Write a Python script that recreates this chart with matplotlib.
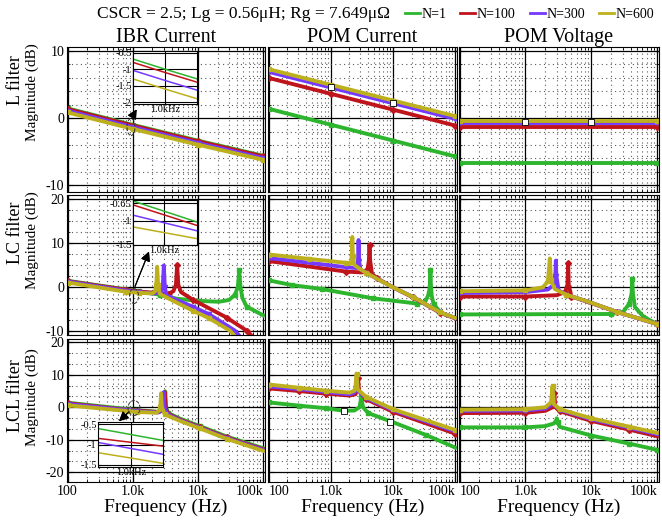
import matplotlib
matplotlib.use('Agg')
import matplotlib.pyplot as plt
from matplotlib.patches import Ellipse
from matplotlib.ticker import LogLocator, MultipleLocator, FixedLocator, NullFormatter

plt.rcParams['font.family'] = ['Liberation Serif', 'DejaVu Serif']
plt.rcParams['axes.unicode_minus'] = False
plt.rcParams['mathtext.fontset'] = 'stix'

NAMES = ['N=1', 'N=100', 'N=300', 'N=600']
COLORS = ['#2db52d', '#c0141c', '#7438ff', '#bdb01c']
MARKERS = ['s', 'D', 'v', 's']

XTICKS = [100, 1000, 10000, 100000]
XTICKLABELS = ['100', '1.0k', '10k', '100k']

COL_TITLES = ['IBR Current', 'POM Current', 'POM Voltage']
ROW_TITLES = ['L filter', 'LC filter', 'LCL filter']
TITLE = 'CSCR = 2.5; Lg = 0.56μH; Rg = 7.649μΩ'

# (frequency Hz, magnitude dB)
ibr_l = {
    'N=1':   [(100, 1.45), (1e3, -1.0), (1e4, -3.35), (1e5, -5.6)],
    'N=100': [(100, 1.35), (1e3, -1.1), (1e4, -3.45), (1e5, -5.7)],
    'N=300': [(100, 1.1), (1e3, -1.34), (1e4, -3.7), (1e5, -5.95)],
    'N=600': [(100, 0.85), (1e3, -1.6), (1e4, -3.95), (1e5, -6.2)],
}
ibr_lc = {
    'N=1':   [(100, 1.4), (800, -0.6), (1260, -1.03), (2600, -1.8), (4700, -2.7),
              (1e4, -3.2), (21e3, -3.4), (30e3, -3.0), (37e3, -1.8), (41e3, 0.0),
              (43e3, 3.8), (45e3, 0.0), (48e3, -2.5), (56e3, -4.5), (1e5, -6.5)],
    'N=100': [(100, 1.3), (800, -0.68), (1260, -1.1), (2000, -1.3), (3500, -1.6),
              (4200, -1.0), (4600, 0.5), (4800, 5.0), (5000, 0.5), (5500, -1.2),
              (8500, -3.0), (27.5e3, -7.0), (56e3, -10.0), (70e3, -11.5)],
    'N=300': [(100, 1.2), (800, -0.89), (1260, -1.21), (2000, -1.5), (2700, -1.3),
              (2900, 0.5), (3000, 4.9), (3100, 0.0), (3300, -2.0), (3700, -2.3),
              (8500, -4.6), (15e3, -6.3), (37e3, -10.0), (45e3, -11.5)],
    'N=600': [(100, 1.0), (800, -1.13), (1260, -1.37), (2000, -1.5), (2200, -1.0),
              (2300, 0.5), (2370, 4.6), (2450, 0.5), (2600, -1.6), (3700, -2.8),
              (8500, -5.5), (15e3, -7.2), (31e3, -10.0), (38e3, -11.5)],
}
ibr_lcl = {
    'N=1':   [(100, 1.4), (860, -0.61), (1160, -0.9), (2500, -1.4), (2900, -1.0),
              (3050, 0.0), (3150, 4.9), (3250, 0.0), (3500, -1.8), (5300, -3.5),
              (10.7e3, -5.8), (27.5e3, -9.0), (1e5, -12.6)],
    'N=100': [(100, 1.2), (860, -0.85), (1160, -1.04), (2500, -1.5), (2850, -1.0),
              (3000, 0.0), (3100, 4.7), (3200, 0.0), (3400, -1.9), (5300, -3.8),
              (10.7e3, -6.1), (27.5e3, -9.3), (1e5, -12.9)],
    'N=300': [(100, 1.0), (860, -0.95), (1160, -1.24), (2500, -1.6), (2750, -1.0),
              (2900, 0.0), (2980, 4.6), (3070, 0.0), (3300, -2.0), (5300, -4.0),
              (10.7e3, -6.3), (27.5e3, -9.5), (1e5, -13.1)],
    'N=600': [(100, 0.6), (860, -1.2), (1160, -1.46), (2300, -1.7), (2550, -1.0),
              (2650, 0.0), (2720, 4.3), (2800, 0.0), (3100, -2.2), (5300, -4.2),
              (10.7e3, -6.5), (27.5e3, -9.7), (1e5, -13.4)],
}

pom_i_l = {
    'N=1':   [(100, 1.4), (1e3, -0.97), (1e4, -3.33), (1e5, -5.7)],
    'N=100': [(100, 6.0), (1e3, 3.63), (1e4, 1.27), (1e5, -1.1)],
    'N=300': [(100, 6.9), (1e3, 4.57), (1e4, 2.23), (1e5, -0.1)],
    'N=600': [(100, 7.3), (1e3, 4.97), (1e4, 2.63), (1e5, 0.3)],
}
pom_i_lc = {
    'N=1':   [(100, 1.5), (240, 0.4), (730, -0.5), (4700, -2.6), (24e3, -3.8),
              (33e3, -3.4), (38e3, -1.5), (39.5e3, 1.0), (40e3, 3.9), (40.5e3, 1.0),
              (42e3, -2.0), (45e3, -4.0), (60e3, -6.0), (1e5, -7.1)],
    'N=100': [(100, 5.9), (1750, 3.5), (3200, 3.3), (3900, 4.0), (4100, 6.0),
              (4200, 9.6), (4300, 6.0), (4600, 3.0), (5500, 2.0), (1e4, -0.1),
              (21e3, -2.4), (57e3, -5.9), (1e5, -7.2)],
    'N=300': [(100, 6.6), (1750, 4.5), (2600, 4.3), (2750, 6.0), (2800, 10.7),
              (2850, 6.0), (3000, 4.0), (3700, 3.2), (1e4, -0.1), (21e3, -2.3),
              (57e3, -5.8), (1e5, -7.1)],
    'N=600': [(100, 7.4), (445, 6.4), (1750, 5.5), (2100, 5.3), (2180, 7.0),
              (2220, 11.4), (2270, 7.0), (2400, 5.0), (2800, 4.3), (3700, 3.2),
              (1e4, -0.1), (21e3, -2.3), (57e3, -5.8), (1e5, -7.1)],
}
pom_i_lcl = {
    'N=1':   [(100, 1.5), (306, 0.5), (830, -0.3), (1640, -1.1), (2400, -1.0),
              (2900, 0.0), (3100, 3.2), (3300, 0.0), (4000, -1.8), (1e4, -4.6),
              (34.6e3, -8.6), (1e5, -12.4)],
    'N=100': [(100, 5.8), (306, 5.0), (830, 4.2), (2000, 3.6), (2500, 4.0),
              (2700, 6.0), (2750, 9.0), (2850, 5.0), (3700, 2.5), (1e4, -1.4),
              (1e5, -8.1)],
    'N=300': [(100, 6.4), (306, 5.6), (830, 4.7), (2000, 4.0), (2400, 4.5),
              (2550, 6.0), (2650, 9.5), (2750, 5.0), (3700, 2.9), (1e4, -0.9),
              (1e5, -7.4)],
    'N=600': [(100, 7.0), (306, 6.0), (830, 5.1), (2000, 4.5), (2400, 5.1),
              (2500, 6.5), (2600, 10.3), (2700, 5.5), (3700, 3.2), (1e4, -0.6),
              (1e5, -7.0)],
}

pom_v_l = {
    'N=1':   [(100, -6.7), (1e5, -6.7)],
    'N=100': [(100, -1.3), (1e5, -1.3)],
    'N=300': [(100, -0.75), (1e5, -0.75)],
    'N=600': [(100, -0.45), (1e5, -0.45)],
}
pom_v_lc = {
    'N=1':   [(100, -6.3), (20e3, -6.2), (30.6e3, -5.7), (38e3, -3.8), (41e3, -1.5),
              (42e3, 1.8), (43e3, -1.5), (46e3, -4.6), (62e3, -6.8), (1e5, -8.5)],
    'N=100': [(100, -2.2), (1e3, -2.2), (3000, -1.9), (4000, -1.2), (4350, 0.5),
              (4460, 5.4), (4550, 0.5), (5000, -2.2), (9500, -3.6), (24.2e3, -5.7),
              (1e5, -8.5)],
    'N=300': [(100, -1.4), (1e3, -1.2), (2200, -0.6), (2700, 0.5), (2850, 2.5),
              (2900, 6.0), (2950, 2.5), (3200, -0.8), (4200, -1.8), (9500, -3.5),
              (24.2e3, -5.7), (1e5, -8.5)],
    'N=600': [(100, -1.0), (1e3, -0.8), (1850, -0.1), (2200, 1.3), (2350, 6.5),
              (2450, 1.5), (2800, -0.5), (4200, -1.8), (9500, -3.5), (24.2e3, -5.7),
              (1e5, -8.5)],
}
pom_v_lcl = {
    'N=1':   [(100, -6.2), (1e3, -6.2), (2000, -5.8), (2700, -5.0), (2900, -4.2),
              (3000, -3.4), (3100, -4.5), (3300, -6.0), (1e4, -8.7), (38e3, -11.2),
              (1e5, -13.1)],
    'N=100': [(100, -1.8), (1e3, -1.7), (2000, -1.1), (2600, 0.0), (2750, 4.5),
              (2850, 0.0), (3300, -1.2), (1e4, -4.2), (38e3, -6.9), (1e5, -8.9)],
    'N=300': [(100, -1.1), (1e3, -1.0), (2000, -0.4), (2500, 0.8), (2650, 5.5),
              (2750, 0.8), (3300, -0.8), (1e4, -3.7), (38e3, -6.3), (1e5, -8.3)],
    'N=600': [(100, -0.75), (1e3, -0.6), (2000, 0.0), (2450, 1.5), (2580, 6.4),
              (2700, 1.0), (3300, -0.6), (1e4, -3.4), (38e3, -6.0), (1e5, -7.9)],
}

# white cursor marks
cursor_pom_i_l = [(1e3, 4.57), (1e4, 2.23)]
cursor_pom_v_l = [(1e3, -0.5), (1e4, -0.5)]
cursor_pom_i_lcl = [(1640, -1.1), (9000, -4.6)]

PANELS = [[ibr_l, pom_i_l, pom_v_l],
          [ibr_lc, pom_i_lc, pom_v_lc],
          [ibr_lcl, pom_i_lcl, pom_v_lcl]]
CURSORS = {(0, 1): cursor_pom_i_l, (0, 2): cursor_pom_v_l, (2, 1): cursor_pom_i_lcl}

YLIMS = [(-11, 10.6), (-11, 21), (-23, 21)]
YTICKS = [[-10, 0, 10], [-10, 0, 10, 20], [-20, -10, 0, 10, 20]]
YMINOR = [2, 2.5, 10 / 3]

W, H = 662, 520
COLS_PX = [(67, 265), (268, 457), (459, 659)]
ROWS_PX = [(47, 192), (195, 335), (339, 482)]


def fig_rect(x0, x1, y0, y1):
    return [x0 / W, 1 - y1 / H, (x1 - x0) / W, (y1 - y0) / H]


def fpt(x, y):
    return (x / W, 1 - y / H)


def draw_series(ax, panel, lw=2.8, marks=True):
    for name, color, mk in zip(NAMES, COLORS, MARKERS):
        f = [p[0] for p in panel[name]]
        db = [p[1] for p in panel[name]]
        if marks:
            ax.plot(f, db, color=color, lw=lw, marker=mk, ms=3,
                    markevery=0.14, solid_joinstyle='round')
        else:
            ax.plot(f, db, color=color, lw=lw)


fig = plt.figure(figsize=(W / 100, H / 100), dpi=100)

for r in range(3):
    for c in range(3):
        ax = fig.add_axes(fig_rect(*COLS_PX[c], *ROWS_PX[r]))
        draw_series(ax, PANELS[r][c])
        if (r, c) in CURSORS:
            pts = CURSORS[(r, c)]
            ax.plot([p[0] for p in pts], [p[1] for p in pts], ls='none',
                    marker='s', ms=4, mfc='white', mec='black', mew=0.6, zorder=5)
        ax.set_xscale('log')
        ax.set_xlim(98, 107000)
        ax.set_ylim(*YLIMS[r])
        ax.xaxis.set_major_locator(FixedLocator(XTICKS))
        ax.xaxis.set_minor_locator(LogLocator(base=10, subs=range(2, 10)))
        ax.xaxis.set_minor_formatter(NullFormatter())
        ax.yaxis.set_major_locator(FixedLocator(YTICKS[r]))
        ax.yaxis.set_minor_locator(MultipleLocator(YMINOR[r]))
        ax.grid(True, which='major', color='black', lw=0.9)
        ax.grid(True, which='minor', color='0.35', lw=0.8, ls=(0, (1, 3)))
        ax.tick_params(which='both', direction='in', top=True, right=True,
                       labelsize=10, pad=2)
        ax.tick_params(which='major', length=4)
        ax.tick_params(which='minor', length=2)
        for s in ax.spines.values():
            s.set_linewidth(0.8)
        if r == 2:
            ax.set_xticklabels(XTICKLABELS)
            labels = ax.get_xticklabels()
            if c > 0:
                labels[0].set_ha('left')
            labels[-1].set_ha('right')
            ax.set_xlabel('Frequency (Hz)', fontsize=14, labelpad=1)
        else:
            ax.set_xticklabels([])
        if c == 0:
            ax.set_yticks(YTICKS[r])
            ax.set_yticklabels([str(v) for v in YTICKS[r]])
        else:
            ax.set_yticklabels([])
        if r == 0:
            ax.set_title(COL_TITLES[c], fontsize=14.5, pad=2)

# zoom insets around 1 kHz on the IBR current column
INSETS = [
    (ibr_l, (133, 197, 51, 104), (750, 1330), (-2.05, -0.45),
     [-2, -1.5, -1, -0.5], ['-2', '-1.5', '-1', '-0.5']),
    (ibr_lc, (133, 197, 200, 245), (800, 1260), (-1.5, -0.58),
     [-1.5, -1, -0.65], ['-1.5', '-1', '-0.65']),
    (ibr_lcl, (98, 163, 422, 467), (860, 1160), (-1.55, -0.45),
     [-1.5, -1, -0.5], ['-1.5', '-1', '-0.5']),
]
for panel, (x0, x1, y0, y1), xl, yl, yt, ytl in INSETS:
    ins = fig.add_axes(fig_rect(x0, x1, y0, y1))
    ins.set_facecolor('white')
    draw_series(ins, panel, lw=1.1, marks=False)
    ins.set_xscale('log')
    ins.set_xlim(*xl)
    ins.set_ylim(*yl)
    ins.xaxis.set_major_locator(FixedLocator([1000]))
    ins.xaxis.set_minor_locator(FixedLocator([]))
    ins.set_xticklabels(['1.0kHz'])
    ins.set_yticks(yt)
    ins.set_yticklabels(ytl)
    ins.grid(True, color='black', lw=0.8)
    ins.tick_params(direction='in', labelsize=7.5, pad=1, length=2)
    for s in ins.spines.values():
        s.set_linewidth(0.8)

# dashed ellipses and arrows
ELLIPSES = [((131, 127), 8, 17), ((134, 296), 9, 15), ((134, 408), 12, 15)]
ARROWS = [((131, 119), (138, 107)), ((134, 289), (150, 249)), ((131, 410), (117, 423))]
for (cx, cy), ew, eh in ELLIPSES:
    fig.add_artist(Ellipse(fpt(cx, cy), ew / W, eh / H, transform=fig.transFigure,
                           fill=False, ls='--', lw=0.7, color='0.2', zorder=10))
for tail, head in ARROWS:
    fig.add_artist(plt.annotate('', xy=fpt(*head), xytext=fpt(*tail),
                                xycoords='figure fraction', textcoords='figure fraction',
                                arrowprops=dict(arrowstyle='-|>', color='black', lw=0.8,
                                                mutation_scale=14)))

ROW_LABEL_Y = [(80, 92), (233, 240), (396, 397)]
for title, (ty, my) in zip(ROW_TITLES, ROW_LABEL_Y):
    fig.text(15 / W, 1 - ty / H, title, rotation=90, ha='center', va='center', fontsize=13)
    fig.text(32 / W, 1 - my / H, 'Magnitude (dB)', rotation=90, ha='center',
             va='center', fontsize=11)

fig.text(97 / W, 1 - 14 / H, TITLE, ha='left', va='center', fontsize=12.5)
handles = [plt.Line2D([], [], color=c, lw=2) for c in COLORS]
fig.legend(handles, NAMES, loc='center right', bbox_to_anchor=(654 / W, 1 - 14 / H),
           ncol=4, frameon=False, fontsize=10, handlelength=1.1, handletextpad=0.1,
           columnspacing=1.0, borderpad=0, borderaxespad=0)

fig.savefig('out.png', dpi=100)
